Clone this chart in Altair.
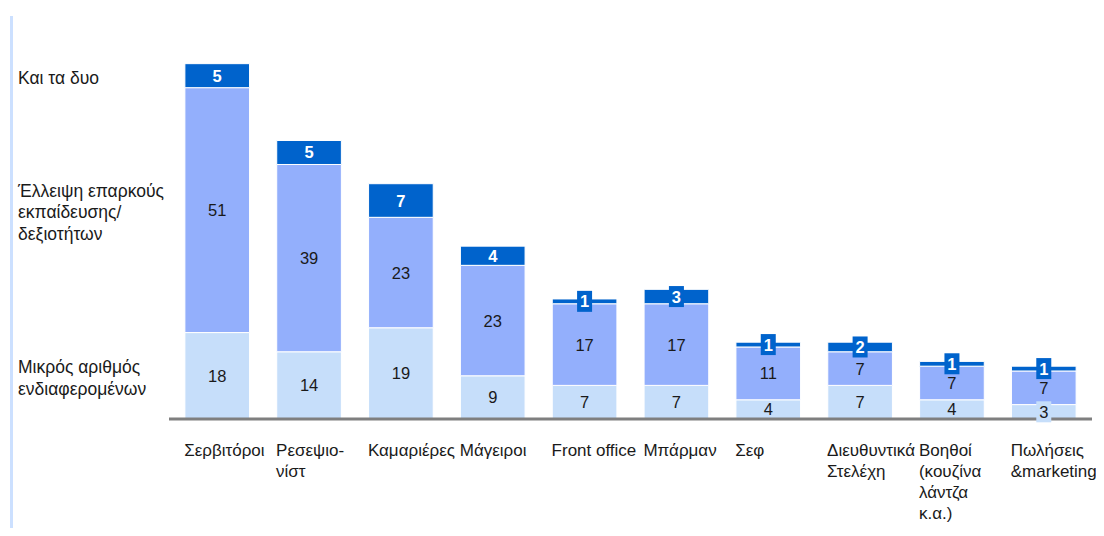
import altair as alt
import pandas as pd

categories = ["Σερβιτόροι", "Ρεσεψιο-|νίστ", "Καμαριέρες", "Μάγειροι", "Front office",
              "Μπάρμαν", "Σεφ", "Διευθυντικά|Στελέχη", "Βοηθοί|(κουζίνα|λάντζα|κ.α.)",
              "Πωλήσεις|&marketing"]
series = ["Μικρός αριθμός|ενδιαφερομένων", "Έλλειψη επαρκούς|εκπαίδευσης/|δεξιοτήτων", "Και τα δυο"]
small_interest = [18, 14, 19, 9, 7, 7, 4, 7, 4, 3]
lack_skills = [51, 39, 23, 23, 17, 17, 11, 7, 7, 7]
both = [5, 5, 7, 4, 1, 3, 1, 2, 1, 1]
colors = ["#c6defa", "#93affc", "#0063cc"]

rows = []
for i, c in enumerate(categories):
    base = 0
    for s, vals in zip(series, [small_interest, lack_skills, both]):
        v = vals[i]
        rows.append({"cat": c, "series": s, "value": v, "y0": base, "y1": base + v,
                     "mid": base + v / 2, "idx": series.index(s)})
        base += v
df = pd.DataFrame(rows)

legend_df = df[df["cat"] == categories[0]][["series", "mid"]].rename(columns={"mid": "ly"})

W, H = 923, 400
ymax = 83.3
upp = ymax / H  # data units per pixel
LH = 21.5

xenc = alt.X("cat:N", sort=categories,
             scale=alt.Scale(paddingInner=0.296, paddingOuter=0.173),
             axis=alt.Axis(title=None, domain=False, ticks=False, labelAngle=0,
                           labelExpr="split(datum.label, '|')",
                           labelAlign="left", labelOffset=-33, labelBaseline="top",
                           labelPadding=23, labelFontSize=17, labelFont="Liberation Sans",
                           labelColor="#1a1a1a", labelLineHeight=21.3, labelLimit=300,
                           labelOverlap=False))
yscale = alt.Scale(domain=[0, ymax], nice=False, zero=True)
cenc = alt.Color("series:N", scale=alt.Scale(domain=series, range=colors), legend=None)

base = alt.Chart(df)

bars = base.mark_bar(stroke="white", strokeWidth=1).encode(
    x=xenc,
    y=alt.Y("y0:Q", scale=yscale, axis=None),
    y2="y1:Q",
    color=cenc,
)

axis_line = alt.Chart(pd.DataFrame({"z": [0]})).mark_rule(color="#7f7f7f", strokeWidth=3).encode(
    x=alt.value(0), x2=alt.value(W), y=alt.Y("z:Q", scale=yscale, axis=None)
)

left_line = alt.Chart(pd.DataFrame({"z": [0]})).mark_rule(color="#cce0ff", strokeWidth=3).encode(
    x=alt.value(-157.5), y=alt.value(-3), y2=alt.value(520)
)

boxes = base.transform_filter("datum.value <= 3 && datum.idx != 1").transform_calculate(
    b0=f"datum.mid - {10.5 * upp}", b1=f"datum.mid + {10.5 * upp}"
).mark_bar(width=15).encode(
    x=xenc,
    y=alt.Y("b0:Q", scale=yscale, axis=None),
    y2="b1:Q",
    color=cenc,
)

txt_dark = base.transform_filter("datum.idx == 2").mark_text(
    fontSize=16.5, font="Liberation Sans", fontWeight="bold", color="white", baseline="middle", dy=1
).encode(x=xenc, y=alt.Y("mid:Q", scale=yscale, axis=None), text="value:Q")

txt_other = base.transform_filter("datum.idx != 2").mark_text(
    fontSize=16.5, font="Liberation Sans", color="#1a1a1a", baseline="middle", dy=1
).encode(x=xenc, y=alt.Y("mid:Q", scale=yscale, axis=None), text="value:Q")

legend_txt = alt.Chart(legend_df).transform_calculate(
    nl="length(split(datum.series, '|'))"
).transform_calculate(
    ly2=f"datum.ly + (datum.nl - 1) * {LH / 2 * upp}"
).mark_text(
    align="left", baseline="middle", fontSize=17.5, font="Liberation Sans", color="#1a1a1a",
    lineBreak="|", lineHeight=LH, dy=3
).encode(x=alt.value(-151), y=alt.Y("ly2:Q", scale=yscale, axis=None), text="series:N")

chart = alt.layer(bars, axis_line, boxes, txt_dark, txt_other, legend_txt, left_line).properties(
    width=W, height=H,
    padding={"left": 161, "top": 11, "right": 4, "bottom": 109},
    autosize=alt.AutoSizeParams(type="none"),
    background="white",
).configure_view(strokeWidth=0)

chart.save("out.html", embed_options={"renderer": "svg", "actions": False})
